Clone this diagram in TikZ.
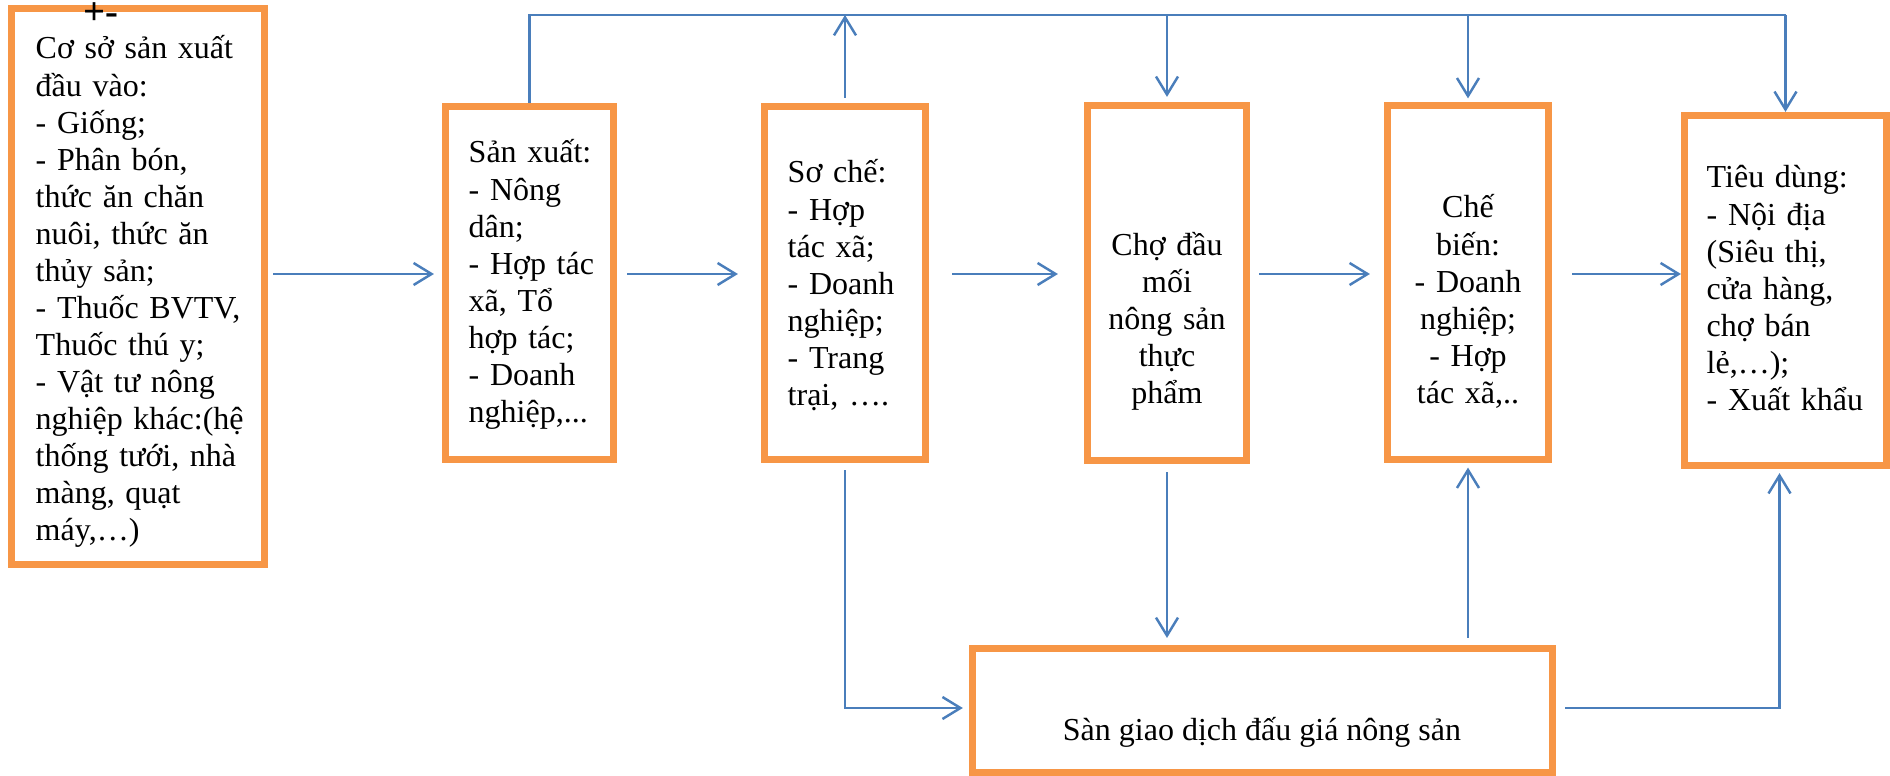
\documentclass[tikz,border=0pt]{standalone}
\usepackage{fontspec}
\setmainfont{Liberation Serif}
\usepackage{tikz}
\usetikzlibrary{arrows.meta}

\definecolor{boxorange}{HTML}{F79646}
\definecolor{linkblue}{HTML}{4A7EBB}

\begin{document}
\begin{tikzpicture}[x=0.01cm,y=-0.01cm,
    box/.style={draw=boxorange,line width=0.07cm,inner sep=0pt},
    txt/.style={inner sep=0pt,font=\fontsize{9.1pt}{10.53pt}\selectfont},
    link/.style={draw=linkblue,line width=0.7pt},
    arr/.style={link,-{Straight Barb[length=0.18cm,width=0.22cm]}}]
    \useasboundingbox (0,0) rectangle (1890,776);

    % boxes
    \node (dauvao) at (138,286.5) [box,minimum width=2.53cm,minimum height=5.56cm] {};
    \node (sanxuat) at (529.5,283) [box,minimum width=1.68cm,minimum height=3.53cm] {};
    \node (soche) at (845,283) [box,minimum width=1.61cm,minimum height=3.53cm] {};
    \node (cho) at (1167,283) [box,minimum width=1.59cm,minimum height=3.55cm] {};
    \node (chebien) at (1468,282.5) [box,minimum width=1.61cm,minimum height=3.53cm] {};
    \node (tieudung) at (1785.5,290.5) [box,minimum width=2.02cm,minimum height=3.50cm] {};
    \node (san) at (1262.5,710.5) [box,minimum width=5.80cm,minimum height=1.24cm] {};

    % texts
    \node (pm) at (101,14) [inner sep=0pt,font=\fontsize{11pt}{12pt}\selectfont\bfseries] {+-};
    \node (dauvaoText) at (35,59) [txt,anchor=base west,text width=2.3cm,align=left]
    {Cơ sở sản xuất\\ đầu vào:\\ - Giống;\\ - Phân bón,\\ thức ăn chăn\\ nuôi, thức ăn\\ thủy sản;\\
     - Thuốc BVTV,\\ Thuốc thú y;\\ - Vật tư nông\\ nghiệp khác:(hệ\\ thống tưới, nhà\\ màng, quạt\\ máy,…)};
    \node (sanxuatText) at (468,163) [txt,anchor=base west,text width=1.5cm,align=left]
    {Sản xuất:\\ - Nông\\ dân;\\ - Hợp tác\\ xã, Tổ\\ hợp tác;\\ - Doanh\\ nghiệp,...};
    \node (socheText) at (787,183) [txt,anchor=base west,text width=1.4cm,align=left]
    {Sơ chế:\\ - Hợp\\ tác xã;\\ - Doanh\\ nghiệp;\\ - Trang\\ trại, ….};
    \node (choText) at (1167,255) [txt,anchor=base,text width=1.4cm,align=center]
    {Chợ đầu\\ mối\\ nông sản\\ thực\\ phẩm};
    \node (chebienText) at (1468,218) [txt,anchor=base,text width=1.4cm,align=center]
    {Chế\\ biến:\\ - Doanh\\ nghiệp;\\ - Hợp\\ tác xã,..};
    \node (tieudungText) at (1706,188) [txt,anchor=base west,text width=1.7cm,align=left]
    {Tiêu dùng:\\ - Nội địa\\ (Siêu thị,\\ cửa hàng,\\ chợ bán\\ lẻ,…);\\ - Xuất khẩu};
    \node (sanText) at (1262,740) [txt,anchor=base] {Sàn giao dịch đấu giá nông sản};

    % main row
    \coordinate (midrow) at (0,274);
    \draw[arr,shorten <=0.05cm,shorten >=0.08cm] (dauvao.east |- midrow) -- (sanxuat.west |- midrow);
    \draw[arr,shorten <=0.10cm,shorten >=0.23cm] (sanxuat.east |- midrow) -- (soche.west |- midrow);
    \draw[arr,shorten <=0.23cm,shorten >=0.26cm] (soche.east |- midrow) -- (cho.west |- midrow);
    \draw[arr,shorten <=0.09cm,shorten >=0.14cm] (cho.east |- midrow) -- (chebien.west |- midrow);
    \draw[arr,shorten <=0.20cm] (chebien.east |- midrow) -- (tieudung.west |- midrow);

    % top line
    \coordinate (toprow) at (0,15);
    \draw[link] (sanxuat.north) |- (tieudung.north |- toprow);
    \draw[arr,shorten <=0.05cm] (soche.north) -- (soche.north |- toprow);
    \draw[arr,shorten >=0.05cm] (cho.north |- toprow) -- (cho.north);
    \draw[arr,shorten >=0.04cm] (chebien.north |- toprow) -- (chebien.north);
    \draw[arr] (tieudung.north |- toprow) -- (tieudung.north);

    % bottom line
    \coordinate (botrow) at (0,708);
    \draw[arr,shorten <=0.07cm,shorten >=0.06cm] (soche.south) |- (san.west |- botrow);
    \draw[arr,shorten <=0.08cm,shorten >=0.07cm] (cho.south) -- (cho.south |- san.north);
    \draw[arr,shorten <=0.07cm,shorten >=0.05cm] (chebien.south |- san.north) -- (chebien.south);
    \draw[arr,shorten <=0.09cm,shorten >=0.04cm] (san.east |- botrow) -| ([xshift=-0.06cm]tieudung.south);
\end{tikzpicture}
\end{document}
